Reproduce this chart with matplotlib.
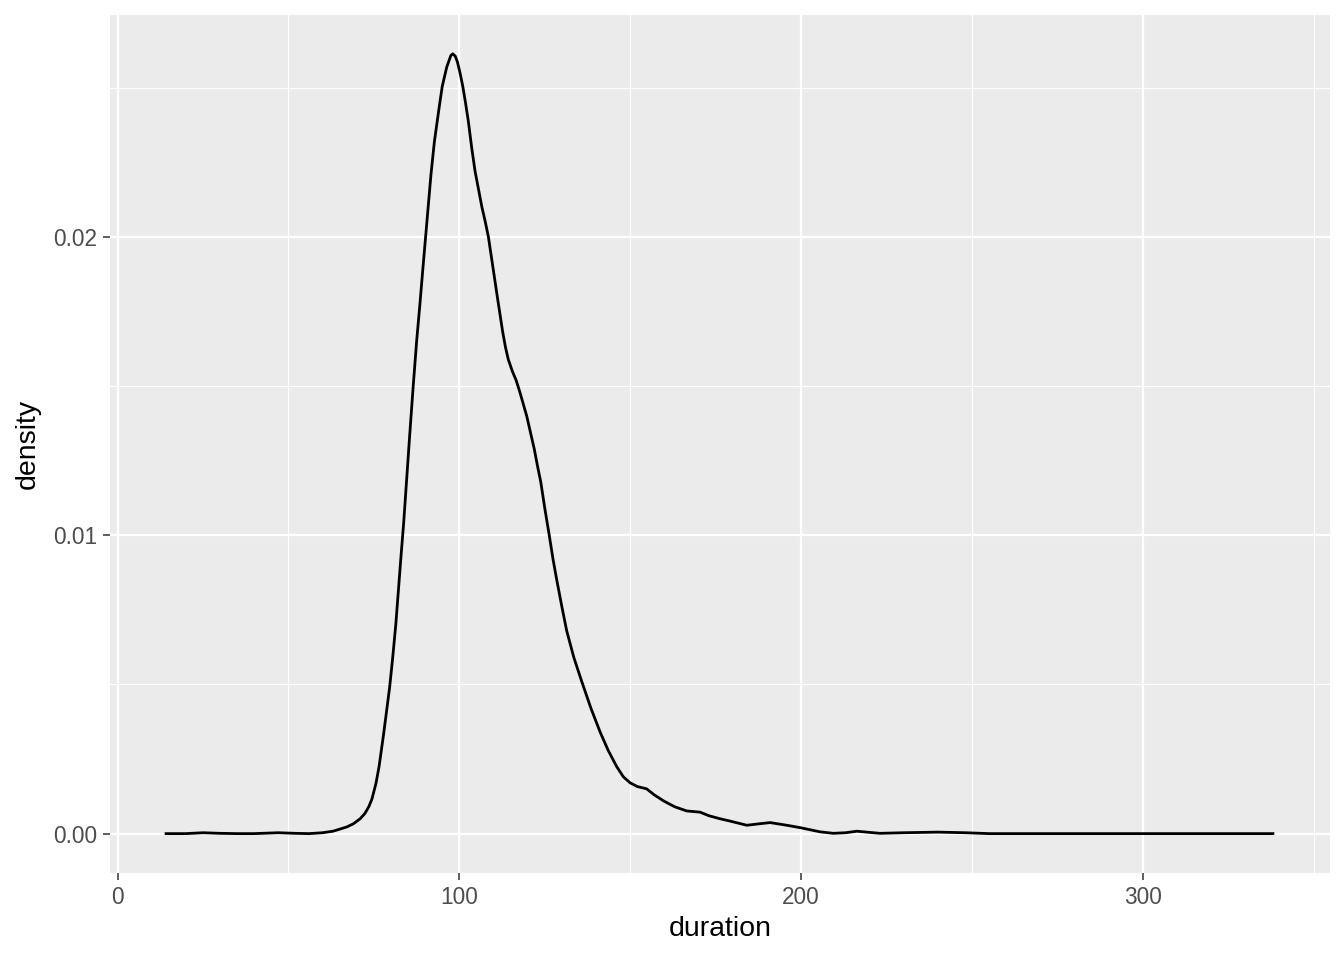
import matplotlib
matplotlib.use("Agg")
import matplotlib.pyplot as plt
from matplotlib.ticker import FixedLocator, FixedFormatter

# ---- Data
duration = [14.2, 20, 25, 30, 35, 40, 47, 52, 56, 60, 63, 65, 67, 69, 71,
            72.4, 73.5, 74.4, 75.6, 76.5, 77.8, 78.7, 79.6, 80.5, 81.4, 82.2,
            83.0, 83.7, 84.6, 85.5, 86.5, 87.5, 88.5, 89.3, 89.9, 90.8, 91.7,
            92.7, 94.1, 95.0, 96.3, 97.5, 98.1, 98.8, 99.4, 100.2, 101.0,
            101.8, 102.6, 103.6, 104.6, 105.6, 106.6, 107.6, 108.5, 109.8,
            111.1, 112.7, 113.5, 114.3, 115.5, 116.6, 117.7, 118.7, 119.7,
            120.7, 121.9, 122.9, 123.8, 125.0, 126.3, 127.4, 128.5, 130.0,
            131.4, 133.5, 135.8, 138.5, 141.2, 143.5, 146, 148, 150, 152,
            154.8, 157, 159.7, 163, 166.5, 170.4, 173, 176.2, 179.2, 184.1,
            187, 190.9, 195.8, 199.7, 205.5, 209.4, 213, 216.3, 223, 230, 240,
            248, 255, 270, 300, 338]
density = [0.0, 0.0, 0.00003, 0.00001, 0.0, 0.0, 0.00003, 0.00001, 0.0,
           0.00003, 0.00008, 0.00015, 0.00022, 0.00033, 0.0005, 0.00068,
           0.0009, 0.00115, 0.00168, 0.00224, 0.0033, 0.0041, 0.0049, 0.0059,
           0.0070, 0.0082, 0.0094, 0.0104, 0.0119, 0.0134, 0.0150, 0.0165,
           0.0178, 0.0189, 0.0197, 0.0209, 0.0221, 0.0232, 0.02435, 0.02505,
           0.02569, 0.02608, 0.02614, 0.02606, 0.02588, 0.0255, 0.02505,
           0.0245, 0.0239, 0.0230, 0.0222, 0.0216, 0.0210, 0.0205, 0.0200,
           0.0190, 0.0180, 0.0168, 0.0163, 0.0159, 0.0155, 0.0152, 0.0148,
           0.0144, 0.0140, 0.0135, 0.0129, 0.0123, 0.0118, 0.0109, 0.0100,
           0.0092, 0.0085, 0.0076, 0.0068, 0.0059, 0.0051, 0.0042, 0.0034,
           0.0028, 0.00225, 0.0019, 0.0017, 0.00158, 0.0015, 0.0013, 0.0011,
           0.0009, 0.00076, 0.00072, 0.0006, 0.0005, 0.00042, 0.00028,
           0.00032, 0.00037, 0.00028, 0.0002, 0.00006, 0.00001, 0.00003,
           0.00008, 0.00001, 0.00003, 0.00005, 0.00003, 0.0, 0.0, 0.0, 0.0]

x_major = [0, 100, 200, 300]
x_minor = [50, 150, 250, 350]
y_major = [0.00, 0.01, 0.02]
y_minor = [0.005, 0.015, 0.025]
y_labels = ["0.00", "0.01", "0.02"]

plt.rcParams["font.family"] = ["Liberation Sans", "DejaVu Sans"]

# ---- Layout
fig = plt.figure(figsize=(13.44, 9.6), dpi=100)
ax = fig.add_axes([110 / 1344, 1 - 873 / 960, 1220 / 1344, 858 / 960])
ax.set_facecolor("#EBEBEB")

ax.plot(duration, density, color="black", linewidth=2.0, zorder=3,
        solid_joinstyle="round")

ax.set_xlim(-2.2, 354.7)
ax.set_ylim(-0.00132, 0.02744)

ax.xaxis.set_major_locator(FixedLocator(x_major))
ax.xaxis.set_minor_locator(FixedLocator(x_minor))
ax.yaxis.set_major_locator(FixedLocator(y_major))
ax.yaxis.set_major_formatter(FixedFormatter(y_labels))
ax.yaxis.set_minor_locator(FixedLocator(y_minor))

ax.grid(which="major", color="white", linewidth=1.6, zorder=1)
ax.grid(which="minor", color="white", linewidth=0.8, zorder=1)
ax.set_axisbelow(True)

for s in ax.spines.values():
    s.set_visible(False)

ax.tick_params(which="major", length=5.3, width=1.1, color="#333333",
               labelsize=16.3, labelcolor="#4D4D4D", pad=4)
ax.tick_params(which="minor", length=0)

ax.set_xlabel("duration", fontsize=20.5, color="black", labelpad=5)
ax.set_ylabel("density", fontsize=20.5, color="black", labelpad=9)

fig.savefig("out.png", dpi=100)
